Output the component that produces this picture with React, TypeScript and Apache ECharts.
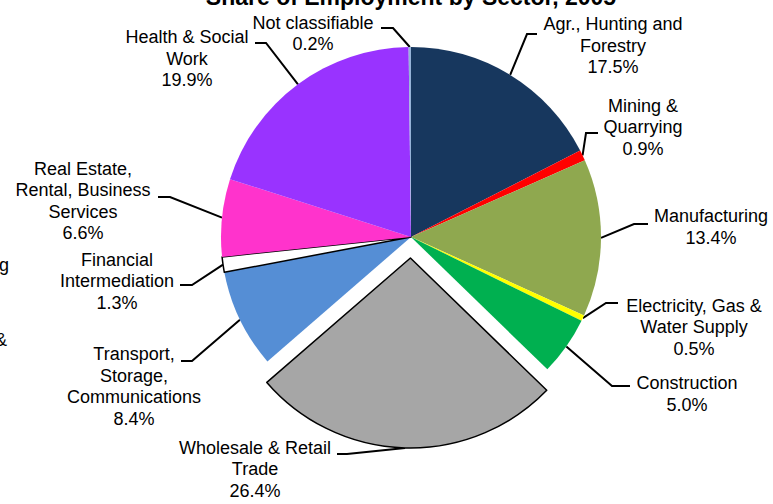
import React, { useEffect, useRef } from "react";
import * as echarts from "echarts";

const sectors = [
  "Agr., Hunting and\nForestry",
  "Mining &\nQuarrying",
  "Manufacturing",
  "Electricity, Gas &\nWater Supply",
  "Construction",
  "Wholesale & Retail\nTrade",
  "Transport,\nStorage,\nCommunications",
  "Financial\nIntermediation",
  "Real Estate,\nRental, Business\nServices",
  "Health & Social\nWork",
  "Not classifiable",
];
const shares = [17.5, 0.9, 13.4, 0.5, 5.0, 26.4, 8.4, 1.3, 6.6, 19.9, 0.2];
const colors = [
  "#17375E", "#FF0000", "#8FA84F", "#FFFF00", "#00B050", "#A6A6A6",
  "#558ED5", "#FFFFFF", "#FF33CC", "#9933FF", "#95B3D7",
];
const explodedIndex = 5;
const outlinedIndices = [5, 7];

// label layout (centre of text block, elbow and end of leader line)
const labelCentres = [
  [613, 45.5], [643, 127], [711, 227], [694, 327], [687, 394], [255, 469],
  [134, 386.5], [117, 281], [83, 201], [187, 58.5], [313, 33.5],
];
const labelElbows = [
  [527, 34], [586, 133], [634, 224], [606, 303], [612, 386], [347, 454],
  [192, 361], [192, 285], [170, 197], [266, 43], [393, 28],
];
const labelEnds = [
  [537, 34], [598, 133], [648, 224], [618, 303], [630, 386], [337, 454],
  [181, 361], [180, 285], [158, 197], [255, 43], [381, 28],
];

export default function App() {
  const ref = useRef<HTMLDivElement>(null);
  useEffect(() => {
    if (!ref.current) return;
    const chart = echarts.init(ref.current, null, { renderer: "svg" });
    const font = "'Liberation Sans', Arial, sans-serif";
    const cx = 411;
    const cy = 237;
    const explodeDist = 21;
    const total = shares.reduce((a, b) => a + b, 0);
    const before = shares.slice(0, explodedIndex).reduce((a, b) => a + b, 0);
    const midAngle = ((before + shares[explodedIndex] / 2) / total) * Math.PI * 2;
    const ecx = cx + explodeDist * Math.sin(midAngle);
    const ecy = cy - explodeDist * Math.cos(midAngle);

    const labelBase = {
      position: "outside",
      formatter: (p: any) => `${p.name}\n${Number(p.value).toFixed(1)}%`,
      fontFamily: font,
      fontSize: 18,
      lineHeight: 21.5,
      color: "#000",
      align: "center",
    };
    const layout = (params: any) => {
      const i = params.dataIndex;
      const start = params.labelLinePoints ? params.labelLinePoints[0] : labelElbows[i];
      return {
        x: labelCentres[i][0],
        y: labelCentres[i][1],
        align: "center",
        verticalAlign: "middle",
        labelLinePoints: [start, labelElbows[i], labelEnds[i]],
      };
    };
    const makeData = (visible: (i: number) => boolean) =>
      sectors.map((name, i) => {
        const vis = visible(i);
        const outlined = outlinedIndices.includes(i);
        return {
          name,
          value: shares[i],
          itemStyle: {
            color: vis ? colors[i] : "rgba(0,0,0,0)",
            borderColor: vis && outlined ? "#000" : "rgba(0,0,0,0)",
            borderWidth: vis && outlined ? 1.5 : 0,
          },
          label: { show: vis },
          labelLine: { show: vis },
        };
      });

    const seriesCommon = {
      type: "pie",
      radius: 190,
      startAngle: 90,
      clockwise: true,
      silent: true,
      emphasis: { disabled: true },
      label: { show: true, ...labelBase },
      labelLine: { show: true, length: 20, length2: 12, lineStyle: { color: "#000", width: 2 } },
      labelLayout: layout,
    };

    chart.setOption({
      animation: false,
      backgroundColor: "#FFFFFF",
      graphic: [
        {
          type: "text",
          x: 411,
          y: -15,
          style: {
            text: "Share of Employment by Sector, 2005",
            font: `bold 23px ${font}`,
            fill: "#000",
            textAlign: "center",
            textVerticalAlign: "top",
          },
        },
        {
          type: "text",
          x: 9,
          y: 265,
          style: { text: "g", font: `18px ${font}`, fill: "#000", textAlign: "right", textVerticalAlign: "middle" },
        },
        {
          type: "text",
          x: 7,
          y: 340,
          style: { text: "&", font: `18px ${font}`, fill: "#000", textAlign: "right", textVerticalAlign: "middle" },
        },
      ],
      series: [
        {
          ...seriesCommon,
          name: "main",
          center: [cx, cy],
          data: makeData((i) => i !== explodedIndex),
        },
        {
          ...seriesCommon,
          name: "exploded",
          center: [ecx, ecy],
          data: makeData((i) => i === explodedIndex),
        },
      ],
    });
    return () => chart.dispose();
  }, []);
  return (
    <div
      ref={ref}
      style={{ position: "fixed", left: 0, top: 0, width: 773, height: 504 }}
    />
  );
}
